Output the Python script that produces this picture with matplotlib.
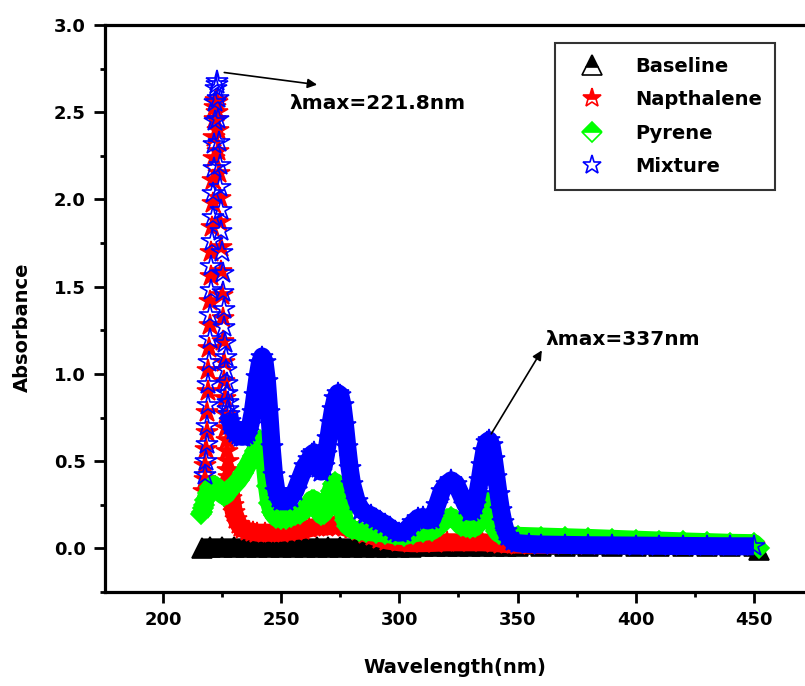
import numpy as np
import matplotlib
matplotlib.use("Agg")
import matplotlib.pyplot as plt
from matplotlib.ticker import MultipleLocator

plt.rcParams['font.family'] = ['DejaVu Sans']
plt.rcParams['font.weight'] = 'bold'

# --- data (wavelength nm / absorbance) ---
base_wl = [216.5, 220, 225, 230, 235, 240, 245, 250, 255, 260, 265, 270, 275, 280, 285,
           290, 295, 300, 305, 310, 315, 320, 325, 330, 335, 340, 345, 350, 360, 370,
           380, 390, 400, 410, 420, 430, 440, 450, 452]
base_ab = [0.005, 0.006, 0.006, 0.006, 0.006, 0.006, 0.006, 0.006, 0.006, 0.006, 0.006, 0.006,
           0.006, 0.006, 0.006, 0.007, 0.008, 0.009, 0.01, 0.012, 0.014, 0.015, 0.015, 0.015,
           0.015, 0.015, 0.015, 0.015, 0.015, 0.015, 0.015, 0.015, 0.015, 0.015, 0.015, 0.015,
           0.015, 0.013, -0.012]

nap_wl = [217.5, 217.75, 218.0, 218.25, 218.5, 218.75, 219.0, 219.25, 219.5, 219.75, 220.0,
          220.25, 220.5, 220.75, 221.0, 221.25, 221.5, 221.75, 222.0, 222.25, 222.5, 222.75,
          223.0, 223.25, 223.5, 223.75, 224.0, 224.25, 224.5, 224.75, 225.0, 225.25, 225.5,
          225.75, 226.0, 226.25, 226.5, 226.75, 227.0, 227.25, 227.5, 227.75, 228.0, 228.5,
          229, 229.5, 230, 231, 232, 233, 234, 236, 238, 240, 243, 246, 250, 253, 256, 259,
          262, 265, 267, 269, 271, 273, 275, 277, 280, 283, 286, 289, 292, 295, 300, 305,
          310, 315, 320, 325, 330, 335, 340, 343, 346, 350, 360, 380, 400, 420, 450]
nap_ab = [0.33, 0.40, 0.48, 0.57, 0.67, 0.78, 0.90, 1.02, 1.15, 1.28, 1.42,
          1.56, 1.70, 1.84, 1.98, 2.11, 2.24, 2.36, 2.46, 2.53, 2.57, 2.56,
          2.50, 2.40, 2.28, 2.15, 2.01, 1.87, 1.73, 1.59, 1.45, 1.32, 1.19,
          1.07, 0.96, 0.86, 0.77, 0.69, 0.62, 0.56, 0.50, 0.45, 0.41, 0.34,
          0.29, 0.25, 0.21, 0.17, 0.14, 0.12, 0.11, 0.10, 0.095, 0.09, 0.09, 0.09, 0.09, 0.095,
          0.10, 0.105, 0.115, 0.125, 0.13, 0.125, 0.13, 0.135, 0.13, 0.12, 0.11, 0.10, 0.085,
          0.07, 0.055, 0.045, 0.035, 0.03, 0.03, 0.032, 0.035, 0.035, 0.035, 0.035, 0.032,
          0.028, 0.024, 0.022, 0.02, 0.02, 0.02, 0.02, 0.02]

pyr_wl = [216.0, 216.5, 217.0, 217.5, 218, 219, 220, 221, 222, 223, 224, 225, 226, 227, 228,
          229, 230, 232, 234, 236, 238, 239, 240, 241, 242, 243, 244, 245, 246, 247, 248, 250,
          252, 254, 256, 258, 260, 262, 263, 264, 265, 266, 267, 268, 269, 270, 271, 272, 273,
          274, 275, 276, 277, 278, 280, 283, 286, 290, 294, 298, 302, 306, 310, 314, 317, 320,
          322, 324, 326, 328, 330, 332, 334, 335, 336, 337, 338, 339, 340, 341, 342, 344, 346,
          350, 360, 370, 380, 390, 400, 410, 420, 430, 440, 450, 452]
pyr_ab = [0.20, 0.21, 0.23, 0.25, 0.28, 0.32, 0.35, 0.36, 0.36, 0.35, 0.33, 0.31, 0.30, 0.31,
          0.33, 0.35, 0.36, 0.39, 0.43, 0.48, 0.53, 0.56, 0.60, 0.62, 0.60, 0.50, 0.36, 0.26,
          0.21, 0.19, 0.175, 0.17, 0.17, 0.18, 0.19, 0.20, 0.22, 0.26, 0.28, 0.28, 0.25, 0.21,
          0.19, 0.20, 0.23, 0.28, 0.33, 0.37, 0.38, 0.35, 0.28, 0.21, 0.16, 0.13, 0.11, 0.10,
          0.095, 0.09, 0.085, 0.075, 0.07, 0.085, 0.095, 0.10, 0.13, 0.17, 0.18, 0.16, 0.13,
          0.12, 0.115, 0.12, 0.15, 0.19, 0.24, 0.27, 0.25, 0.19, 0.13, 0.10, 0.085, 0.08,
          0.075, 0.072, 0.068, 0.064, 0.06, 0.055, 0.05, 0.045, 0.04, 0.036, 0.032, 0.03, 0.005]

mix_wl = [218.0, 218.25, 218.5, 218.75, 219.0, 219.25, 219.5, 219.75, 220.0, 220.25, 220.5,
          220.75, 221.0, 221.25, 221.5, 221.75, 222.0, 222.25, 222.5, 222.75, 223.0, 223.25,
          223.5, 223.75, 224.0, 224.25, 224.5, 224.75, 225.0, 225.25, 225.5, 225.75, 226.0,
          226.25, 226.5, 226.75, 227.0, 227.25, 227.5, 227.75, 228.0, 228.5, 229, 230, 231,
          232, 233, 234, 235, 236, 237, 238, 239, 240, 241, 242, 243, 244, 245, 246, 247, 248,
          249, 250, 252, 254, 256, 258, 260, 262, 263, 264, 265, 266, 267, 268, 269, 270, 271,
          272, 273, 274, 275, 276, 277, 278, 279, 280, 282, 284, 286, 288, 290, 292, 294, 296,
          298, 300, 302, 304, 306, 308, 310, 312, 314, 316, 318, 320, 322, 324, 326, 328, 330,
          331, 332, 333, 334, 335, 336, 337, 338, 339, 340, 341, 342, 343, 344, 345, 346, 348,
          350, 355, 360, 370, 380, 390, 400, 410, 420, 430, 440, 450]
mix_ab = [0.42, 0.50, 0.60, 0.70, 0.82, 0.94, 1.07, 1.20, 1.34, 1.48, 1.62,
          1.76, 1.90, 2.04, 2.18, 2.32, 2.45, 2.56, 2.64, 2.68, 2.66, 2.58,
          2.46, 2.33, 2.20, 2.07, 1.94, 1.82, 1.70, 1.58, 1.47, 1.37, 1.27,
          1.18, 1.10, 1.02, 0.95, 0.89, 0.84, 0.80, 0.77, 0.73, 0.71, 0.68, 0.66,
          0.65, 0.64, 0.64, 0.65, 0.67, 0.71, 0.78, 0.88, 0.98, 1.06, 1.10, 1.07, 0.96, 0.78,
          0.58, 0.42, 0.33, 0.29, 0.27, 0.27, 0.29, 0.33, 0.40, 0.47, 0.51, 0.54, 0.55, 0.51,
          0.46, 0.44, 0.47, 0.54, 0.63, 0.72, 0.80, 0.86, 0.89, 0.88, 0.82, 0.71, 0.58, 0.46,
          0.37, 0.27, 0.22, 0.20, 0.19, 0.17, 0.155, 0.14, 0.12, 0.10, 0.09, 0.095, 0.12, 0.15,
          0.175, 0.18, 0.16, 0.17, 0.25, 0.33, 0.37, 0.39, 0.37, 0.31, 0.25, 0.21, 0.22, 0.25,
          0.31, 0.39, 0.48, 0.56, 0.61, 0.62, 0.59, 0.51, 0.41, 0.31, 0.22, 0.15, 0.10, 0.07,
          0.04, 0.03, 0.025, 0.022, 0.02, 0.018, 0.017, 0.016, 0.015, 0.014, 0.013, 0.012, 0.012]

fig = plt.figure(figsize=(8.05, 6.86), dpi=100)
ax = fig.add_axes([0.1304, 0.137, 0.8696, 0.8265])

LW = 13     # band line under the markers
MS = 14


def draw(wl, ab, color, marker, ms, fill, z, line_from=0.0):
    wl = np.array(wl)
    ab = np.array(ab)
    keep = wl >= line_from
    ax.plot(wl[keep], ab[keep], color=color, lw=LW, solid_joinstyle='round',
            solid_capstyle='butt', zorder=z)
    h, = ax.plot(wl, ab, ls='none', marker=marker, ms=ms, color=color, mec=color,
                 fillstyle=fill, mew=1.2, zorder=z + 0.5)
    return h


h1 = draw(base_wl, base_ab, 'black', '^', MS, 'full', 2)
h2 = draw(nap_wl, nap_ab, 'red', '*', 16, 'full', 3, line_from=228.0)
h3 = draw(pyr_wl, pyr_ab, '#00ff00', 'D', 10, 'full', 4)
h4 = draw(mix_wl, mix_ab, 'blue', '*', 16, 'none', 5, line_from=228.0)

ax.set_xlim(175.5, 471.6)
ax.set_ylim(-0.25, 3.0)
ax.xaxis.set_major_locator(MultipleLocator(50))
ax.xaxis.set_minor_locator(MultipleLocator(25))
ax.yaxis.set_major_locator(MultipleLocator(0.5))
ax.yaxis.set_minor_locator(MultipleLocator(0.25))
ax.yaxis.set_major_formatter(plt.FormatStrFormatter('%.1f'))
ax.tick_params(which='major', direction='out', length=8, width=2, labelsize=13, pad=6)
ax.tick_params(which='minor', direction='out', length=3.5, width=2)
ax.tick_params(top=False, right=False, which='both')
for lab in ax.get_xticklabels() + ax.get_yticklabels():
    lab.set_fontweight('bold')
for s in ['left', 'bottom', 'top']:
    ax.spines[s].set_linewidth(2.3)
ax.spines['right'].set_visible(False)

ax.set_xlabel('Wavelength(nm)', fontsize=14, fontweight='bold')
ax.set_ylabel('Absorbance', fontsize=14, fontweight='bold')
ax.xaxis.set_label_coords(0.5, -0.116)
ax.yaxis.set_label_coords(-0.105, 0.467)

leg = ax.legend([h1, h2, h3, h4], ['Baseline', 'Napthalene', 'Pyrene', 'Mixture'],
                loc='upper left', bbox_to_anchor=(0.643, 0.968), borderaxespad=0,
                prop={'weight': 'bold', 'size': 14}, frameon=True, fancybox=False,
                borderpad=0.7, handlelength=2.4, handletextpad=1.0, labelspacing=0.74)
leg.get_frame().set_edgecolor('black')
leg.get_frame().set_linewidth(1.5)
# legend symbols are half filled, as in the original
for lh in leg.legend_handles[:3]:
    lh.set_fillstyle('top')
    lh.set_markerfacecoloralt('white')
leg.legend_handles[1].set_markersize(14)
leg.legend_handles[3].set_markersize(14)
leg.legend_handles[3].set_fillstyle('none')

ap = dict(arrowstyle='-|>', color='black', lw=1.2, mutation_scale=14)
ax.annotate('', xy=(266.4, 2.656), xytext=(224.8, 2.73), arrowprops=ap, zorder=10)
ax.text(253.7, 2.553, 'λmax=221.8nm', fontsize=14.5, fontweight='bold', va='center', ha='left')
ax.annotate('', xy=(360.9, 1.149), xytext=(338.3, 0.643), arrowprops=ap, zorder=10)
ax.text(361.6, 1.196, 'λmax=337nm', fontsize=14.5, fontweight='bold', va='center', ha='left')

fig.savefig('out.png', dpi=100)
